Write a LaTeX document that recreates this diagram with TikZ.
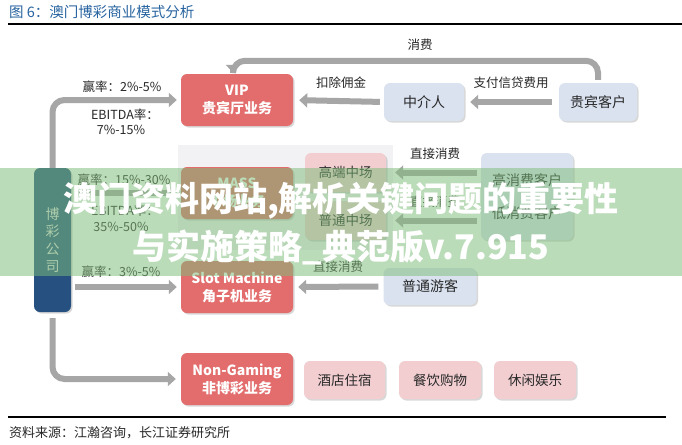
\documentclass[tikz,border=0pt]{standalone}
\usepackage{fontspec}
\setmainfont{Noto Sans CJK SC}
\usetikzlibrary{arrows.meta,shadows}
\definecolor{redc}{RGB}{227,108,108}
\definecolor{pinkc}{RGB}{242,206,209}
\definecolor{bluec}{RGB}{218,226,240}
\definecolor{grayc}{RGB}{166,166,166}
\definecolor{coc}{RGB}{37,80,128}
\definecolor{panelc}{RGB}{242,242,245}
\definecolor{titleblue}{RGB}{40,100,160}
\definecolor{wmgreen}{RGB}{126,188,122}
\definecolor{labelc}{RGB}{40,40,40}
\tikzset{
  shad/.style={drop shadow={shadow xshift=1.5pt,shadow yshift=-1.5pt,opacity=.3}},
  redbox/.style={shad,rounded corners=6pt,fill=redc,text=white,minimum width=112pt,minimum height=52pt,align=center,inner sep=0pt,font=\fontsize{14}{18}\selectfont\bfseries},
  bluebox/.style={shad,rounded corners=6pt,fill=bluec,text=labelc,align=center,inner sep=0pt,font=\fontsize{14}{17}\selectfont},
  pinkbox/.style={shad,rounded corners=6pt,fill=pinkc,text=labelc,align=center,inner sep=0pt,font=\fontsize{13.5}{17}\selectfont},
  cobox/.style={shad,rounded corners=6pt,fill=coc,text=white!88!black,minimum width=37pt,minimum height=144pt,align=center,inner sep=0pt,font=\fontsize{14}{17.5}\selectfont},
  garrow/.style={draw=grayc,line width=6pt,rounded corners=12pt,-{Triangle[width=14pt,length=8pt]}},
  lbl/.style={text=labelc,inner sep=0pt,font=\fontsize{12.5}{15}\selectfont},
  wmtext/.style={text=white,inner sep=0pt,font=\fontsize{34}{40}\selectfont\bfseries}
}
\begin{document}
\begin{tikzpicture}[x=1pt,y=-1pt]
\useasboundingbox[fill=white] (0,0) rectangle (682,444);
% title and rules
\node[anchor=west,text=titleblue,inner sep=0pt,font=\fontsize{14.5}{16}\selectfont] (title) at (9,12) {图 6：澳门博彩商业模式分析};
\draw[line width=1.5pt] (8,24) -- (682,24);
\draw[line width=1.3pt] (8,417) -- (666,417);
\node[anchor=west,text=labelc,inner sep=0pt,font=\fontsize{13}{15}\selectfont] (src) at (9,433) {资料来源：江瀚咨询，长江证券研究所};
% panel behind mass segment
\node[fill=panelc,minimum width=215pt,minimum height=105pt,anchor=north west,inner sep=0pt] (panel) at (178,145) {};
% company
\node[cobox] (co) at (52.5,240) {博\\彩\\公\\司};
% business boxes
\node[redbox] (vip) at (237,100) {VIP\\贵宾厅业务};
\node[redbox] (mass) at (237,193) {MASS\\中场业务};
\node[redbox] (slot) at (237,287) {Slot Machine\\角子机业务};
\node[redbox] (ng) at (237,379) {Non-Gaming\\非博彩业务};
% VIP chain
\node[bluebox,minimum width=80pt,minimum height=38pt] (mid) at (424,102) {中介人};
\node[bluebox,minimum width=78pt,minimum height=38pt] (guest) at (598,102) {贵宾客户};
% mass chain
\node[pinkbox,minimum width=81pt,minimum height=39pt] (hi) at (345.5,172.5) {高端中场};
\node[pinkbox,minimum width=81pt,minimum height=39pt] (lo) at (345.5,220.5) {普通中场};
\node[bluebox,minimum width=92pt,minimum height=87pt] (cust) at (527,196.5) {高消费客户\\[16pt]低消费客户};
% slot chain
\node[bluebox,minimum width=93pt,minimum height=37pt] (tour) at (430,286.5) {普通游客};
% non gaming
\node[pinkbox,minimum width=81pt,minimum height=38pt] (hotel) at (344.5,380) {酒店住宿};
\node[pinkbox,minimum width=82pt,minimum height=38pt] (food) at (440,380) {餐饮购物};
\node[pinkbox,minimum width=82pt,minimum height=38pt] (fun) at (535,380) {休闲娱乐};
% arrows from company
\draw[garrow,shorten >=4pt] (co.north) |- (vip.west);
\draw[garrow,shorten <=4pt,shorten >=4pt] (co.east |- mass.west) -- (mass.west);
\draw[garrow,shorten <=4pt,shorten >=4pt] (co.east |- slot.west) -- (slot.west);
\draw[garrow,shorten <=6pt,shorten >=5pt] (co.south) |- (ng.west);
% labels left
\node[lbl] (l1) at (122,87) {赢率：2\%-5\%};
\node[lbl] (l2) at (125,115) {EBITDA率：};
\node[lbl] (l3) at (121,130) {7\%-15\%};
\node[lbl] (l4) at (124,180) {赢率：15\%-30\%};
\node[lbl] (l5) at (125,211) {EBITDA率：};
\node[lbl] (l6) at (121,227) {35\%-50\%};
\node[lbl] (l7) at (121,272) {赢率：3\%-5\%};
% VIP chain arrows
\draw[garrow,shorten <=4pt,shorten >=6pt] (mid.west) -- (vip.east);
\draw[garrow,shorten <=7pt,shorten >=6pt] (guest.west) -- (mid.east);
\draw[garrow,shorten <=3pt,shorten >=1pt] (guest.north) -- ++(0,-22) -| ([xshift=-4pt]vip.north);
\node[lbl] (c1) at (341,83) {扣除佣金};
\node[lbl] (c2) at (511,83) {支付信贷费用};
\node[lbl] (c3) at (420,45) {消费};
% mass arrows
\draw[garrow,shorten <=4pt,shorten >=9pt] (cust.west |- hi.east) -- (hi.east);
\draw[garrow,shorten <=4pt,shorten >=9pt] (cust.west |- lo.east) -- (lo.east);
\node[lbl] (d1) at (435,154) {直接消费};
\node[lbl] (d2) at (435,202) {直接消费};
% slot arrow
\draw[garrow,shorten <=5pt,shorten >=5pt] (tour.west) -- (slot.east);
\node[lbl] (d3) at (338,267) {直接消费};
% watermark band
\fill[wmgreen,opacity=.52] (0,168) rectangle (682,276);
\node[wmtext] (wm1) at (341,201) {澳门资料网站,解析关键问题的重要性};
\node[wmtext] (wm2) at (341,247) {与实施策略\_典范版v.7.915};
\end{tikzpicture}
\end{document}
